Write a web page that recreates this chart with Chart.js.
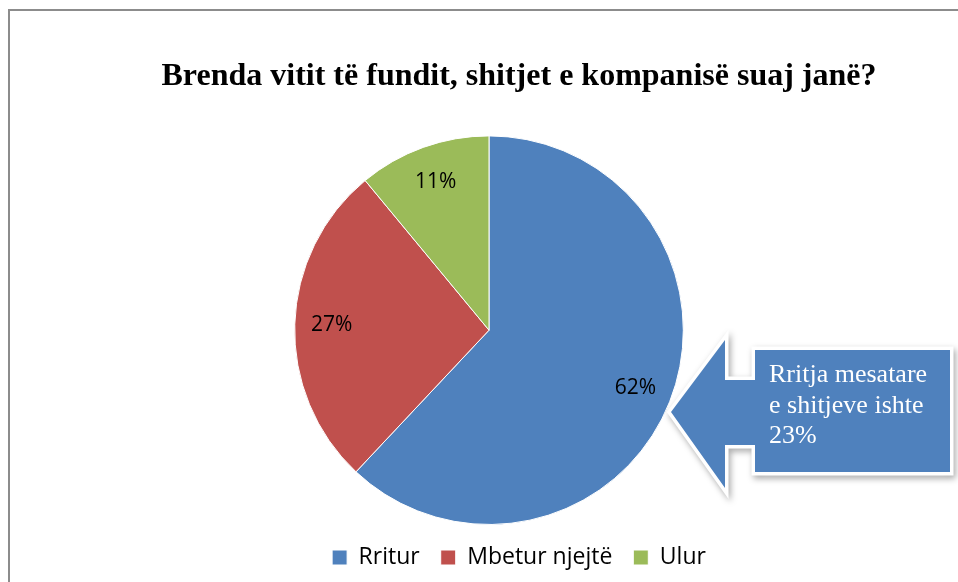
<!DOCTYPE html>
<html>
<head>
<meta charset="utf-8">
<script src="https://cdn.jsdelivr.net/npm/chart.js@4"></script>
<style>
  html, body { margin: 0; padding: 0; background: #fff; }
  #wrap { width: 958px; height: 582px; }
</style>
</head>
<body>
<div id="wrap"><canvas id="plots" width="958" height="582"></canvas></div>
<script>
// data
var categories = ["Rritur", "Mbetur njejtë", "Ulur"];
var shares = [62, 27, 11];
var sliceColors = ["#4F81BD", "#C0504D", "#9BBB59"];
var titleText = "Brenda vitit të fundit, shitjet e kompanisë suaj janë?";
var calloutLines = ["Rritja mesatare", "e shitjeve ishte", "23%"];

// empty box on the right so the pie sits left of the title/legend centre
var spacerPlugin = {
    id: 'spacer',
    beforeInit: function (chart) {
        Chart.layouts.addBox(chart, {
            position: 'right',
            weight: 0,
            fullSize: false,
            options: {},
            left: 0, top: 0, right: 0, bottom: 0, width: 0, height: 0,
            isHorizontal: function () { return false; },
            update: function (maxWidth, maxHeight) { this.width = 60; this.height = maxHeight; },
            draw: function () {}
        });
    }
};

// thin gray frame, cut by the right and bottom edges
var framePlugin = {
    id: 'frame',
    beforeDraw: function (chart) {
        var ctx = chart.ctx;
        ctx.save();
        ctx.fillStyle = '#fff';
        ctx.fillRect(0, 0, chart.width, chart.height);
        ctx.strokeStyle = '#8c8c8c';
        ctx.lineWidth = 2;
        ctx.beginPath();
        ctx.moveTo(9, chart.height);
        ctx.lineTo(9, 10);
        ctx.lineTo(chart.width, 10);
        ctx.stroke();
        ctx.restore();
    }
};

// percentage labels inside the slices
var sliceLabels = {
    id: 'sliceLabels',
    afterDatasetsDraw: function (chart) {
        var ctx = chart.ctx;
        var meta = chart.getDatasetMeta(0);
        ctx.save();
        ctx.font = '21px "Open Sans", sans-serif';
        ctx.fillStyle = '#000';
        ctx.textAlign = 'center';
        ctx.textBaseline = 'middle';
        meta.data.forEach(function (arc, i) {
            var p = arc.getProps(['x', 'y', 'startAngle', 'endAngle', 'outerRadius'], true);
            var mid = (p.startAngle + p.endAngle) / 2;
            var r = p.outerRadius * 0.81;
            ctx.fillText(shares[i] + '%', p.x + Math.cos(mid) * r, p.y + Math.sin(mid) * r);
        });
        ctx.restore();
    }
};

// left-pointing callout arrow with the note
var calloutPlugin = {
    id: 'callout',
    afterDraw: function (chart) {
        var ctx = chart.ctx;
        ctx.save();
        ctx.beginPath();
        ctx.moveTo(671, 412);
        ctx.lineTo(725, 340);
        ctx.lineTo(725, 380);
        ctx.lineTo(755, 380);
        ctx.lineTo(755, 350);
        ctx.lineTo(950, 350);
        ctx.lineTo(950, 472);
        ctx.lineTo(755, 472);
        ctx.lineTo(755, 445);
        ctx.lineTo(725, 445);
        ctx.lineTo(725, 488);
        ctx.closePath();
        ctx.shadowColor = 'rgba(0,0,0,0.35)';
        ctx.shadowBlur = 6;
        ctx.shadowOffsetX = 2;
        ctx.shadowOffsetY = 3;
        ctx.lineJoin = 'miter';
        ctx.strokeStyle = '#fff';
        ctx.lineWidth = 7;
        ctx.stroke();
        ctx.shadowColor = 'transparent';
        ctx.fillStyle = '#4F81BD';
        ctx.fill();
        ctx.fillStyle = '#fff';
        ctx.font = '26px "Liberation Serif", serif';
        ctx.textBaseline = 'alphabetic';
        calloutLines.forEach(function (line, i) {
            ctx.fillText(line, 769, 382 + i * 30.5);
        });
        ctx.restore();
    }
};

var plots = document.getElementById("plots");
new Chart(plots, {
    type: 'pie',
    data: {
        labels: categories,
        datasets: [{
            data: shares,
            backgroundColor: sliceColors,
            borderColor: '#fff',
            borderWidth: 1,
        }],
    },
    options: {
        responsive: false,
        animation: false,
        layout: {
            padding: { top: 10, bottom: 3, left: 80, right: 0 },
        },
        plugins: {
            title: {
                display: true,
                text: titleText,
                color: '#000',
                font: { family: '"Liberation Serif", serif', size: 32, weight: 'bold' },
                padding: { top: 48, bottom: 39 },
            },
            legend: {
                position: 'bottom',
                labels: {
                    color: '#000',
                    boxWidth: 15,
                    boxHeight: 15,
                    padding: 21,
                    font: { family: '"Open Sans", sans-serif', size: 23 },
                },
            },
            tooltip: { enabled: false },
        },
    },
    plugins: [spacerPlugin, framePlugin, sliceLabels, calloutPlugin],
});
</script>
</body>
</html>
